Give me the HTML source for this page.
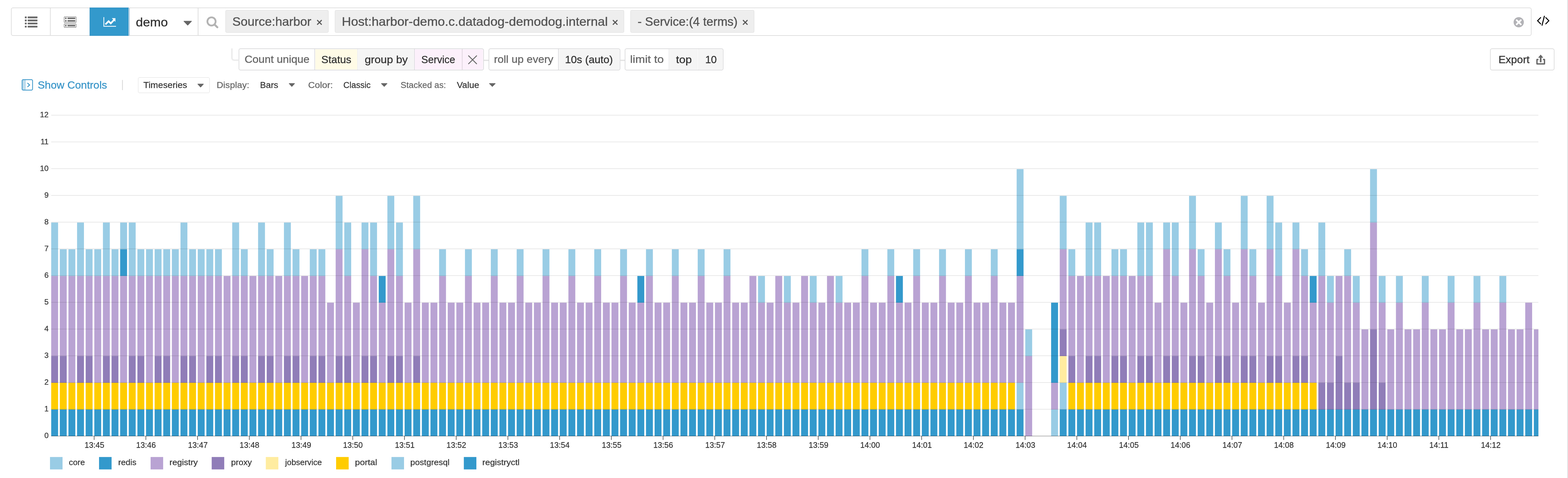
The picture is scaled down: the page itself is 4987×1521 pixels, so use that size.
<!DOCTYPE html>
<html lang="en"><head><meta charset="utf-8"><title>Log Analytics</title>
<style>
html,body{margin:0;padding:0;background:#fff;}
body{width:4987px;height:1521px;position:relative;overflow:hidden;font-family:"Liberation Sans",sans-serif;}
.t{position:absolute;white-space:pre;transform-origin:0 0;font-family:"Liberation Sans",sans-serif;}
.abs{position:absolute;box-sizing:border-box;}
svg{position:absolute;left:0;top:0;overflow:visible;}
</style></head>
<body>
<div class="abs" style="left:4985px;top:0;width:2px;height:1521px;background:#d9d9dd"></div>
<div class="abs" style="left:35.4px;top:24.3px;width:4835.8px;height:89.8px;border:2px solid #dbdbdb;border-radius:6px;background:#fff"></div>
<div class="abs" style="left:159.3px;top:25px;width:2px;height:88px;background:#d9d9d9"></div>
<div class="abs" style="left:285px;top:24.2px;width:124.2px;height:89.6px;background:#3399cc;border:1.2px solid #2b86b8"></div>
<div class="abs" style="left:410.6px;top:25.5px;width:1.7px;height:87.5px;background:#2a7ab0"></div>
<div class="abs" style="left:629.2px;top:25px;width:2px;height:88px;background:#d9d9d9"></div>
<div class="abs" style="left:717.0px;top:32.2px;width:327.8px;height:71.7px;border:1.9px solid #d9d9d9;border-radius:4.5px;background:#eeeeee"></div>
<div class="abs" style="left:1065.0px;top:32.2px;width:919.5px;height:71.7px;border:1.9px solid #d9d9d9;border-radius:4.5px;background:#eeeeee"></div>
<div class="abs" style="left:2005.1px;top:32.2px;width:393.5px;height:71.7px;border:1.9px solid #d9d9d9;border-radius:4.5px;background:#eeeeee"></div>
<div class="abs" style="left:759.4px;top:154.1px;width:779.3px;height:69.7px;border:2px solid #d8d8da;border-radius:6px;background:#fff;overflow:hidden">
<div class="abs" style="left:241.4px;top:1.2px;width:133.1px;height:63.3px;background:#fffbe6"></div>
<div class="abs" style="left:378.1px;top:1.2px;width:176.6px;height:63.3px;background:#f5f5f5"></div>
<div class="abs" style="left:558.1px;top:1.2px;width:150.6px;height:63.3px;background:#fcf0fb"></div>
<div class="abs" style="left:708.7px;top:1.2px;width:65.6px;height:63.3px;background:#fcf0fb"></div>
<div class="abs" style="left:238.8px;top:0;width:1.6px;height:66px;background:#d9d9dc"></div>
<div class="abs" style="left:375.5px;top:0;width:1.6px;height:66px;background:#d9d9dc"></div>
<div class="abs" style="left:555.7px;top:0;width:1.6px;height:66px;background:#d9d9dc"></div>
<div class="abs" style="left:707.9px;top:0;width:1.6px;height:66px;background:#ddd3dc"></div>
</div>
<div class="abs" style="left:1553.6px;top:154.1px;width:419.0px;height:69.7px;border:2px solid #d8d8da;border-radius:6px;background:#fff;overflow:hidden">
<div class="abs" style="left:222.2px;top:1.2px;width:191.8px;height:63.3px;background:#f5f5f5"></div>
<div class="abs" style="left:219.6px;top:0;width:1.6px;height:66px;background:#d9d9dc"></div>
</div>
<div class="abs" style="left:1987.0px;top:154.1px;width:314.2px;height:69.7px;border:2px solid #d8d8da;border-radius:6px;background:#fff;overflow:hidden">
<div class="abs" style="left:140.4px;top:1.2px;width:91.1px;height:63.3px;background:#f5f5f5"></div>
<div class="abs" style="left:235.1px;top:1.2px;width:74.1px;height:63.3px;background:#f5f5f5"></div>
<div class="abs" style="left:137.8px;top:0;width:1.6px;height:66px;background:#d9d9dc"></div>
<div class="abs" style="left:232.5px;top:0;width:1.6px;height:66px;background:#d9d9dc"></div>
</div>
<div class="abs" style="left:1538.5px;top:189.8px;width:15.3px;height:4px;background:#e3e3e3"></div>
<div class="abs" style="left:1972.4px;top:189.8px;width:14.8px;height:4px;background:#e3e3e3"></div>
<div class="abs" style="left:735.2px;top:154px;width:25px;height:39.6px;border-left:5.6px solid #ededed;border-bottom:5.4px solid #ededed;border-bottom-left-radius:10px"></div>
<div class="abs" style="left:4739.3px;top:154.1px;width:205px;height:69.7px;border:2.2px solid #dadada;border-radius:6.5px;background:#fff"></div>
<div class="abs" style="left:388px;top:253.8px;width:3px;height:33.5px;background:#dedede;border-radius:1.5px"></div>
<div class="abs" style="left:439.2px;top:246.0px;width:227.8px;height:49.9px;border:1.9px solid #d8d8d8;border-radius:5px;background:#fff"></div>
<svg class="chart" width="4987" height="1521" viewBox="0 0 4987 1521">
<rect x="162.85" y="1303.02" width="21.90" height="84.98" fill="#3399cc"/>
<rect x="162.85" y="1218.04" width="21.90" height="84.98" fill="#ffcc00"/>
<rect x="162.85" y="1133.06" width="21.90" height="84.98" fill="#907db8"/>
<rect x="162.85" y="878.12" width="21.90" height="254.94" fill="#b9a3d3"/>
<rect x="162.85" y="708.16" width="21.90" height="169.96" fill="#99cce5"/>
<rect x="190.27" y="1303.02" width="21.90" height="84.98" fill="#3399cc"/>
<rect x="190.27" y="1218.04" width="21.90" height="84.98" fill="#ffcc00"/>
<rect x="190.27" y="1133.06" width="21.90" height="84.98" fill="#907db8"/>
<rect x="190.27" y="878.12" width="21.90" height="254.94" fill="#b9a3d3"/>
<rect x="190.27" y="793.14" width="21.90" height="84.98" fill="#99cce5"/>
<rect x="217.68" y="1303.02" width="21.90" height="84.98" fill="#3399cc"/>
<rect x="217.68" y="1218.04" width="21.90" height="84.98" fill="#ffcc00"/>
<rect x="217.68" y="878.12" width="21.90" height="339.92" fill="#b9a3d3"/>
<rect x="217.68" y="793.14" width="21.90" height="84.98" fill="#99cce5"/>
<rect x="245.10" y="1303.02" width="21.90" height="84.98" fill="#3399cc"/>
<rect x="245.10" y="1218.04" width="21.90" height="84.98" fill="#ffcc00"/>
<rect x="245.10" y="1133.06" width="21.90" height="84.98" fill="#907db8"/>
<rect x="245.10" y="878.12" width="21.90" height="254.94" fill="#b9a3d3"/>
<rect x="245.10" y="708.16" width="21.90" height="169.96" fill="#99cce5"/>
<rect x="272.51" y="1303.02" width="21.90" height="84.98" fill="#3399cc"/>
<rect x="272.51" y="1218.04" width="21.90" height="84.98" fill="#ffcc00"/>
<rect x="272.51" y="1133.06" width="21.90" height="84.98" fill="#907db8"/>
<rect x="272.51" y="878.12" width="21.90" height="254.94" fill="#b9a3d3"/>
<rect x="272.51" y="793.14" width="21.90" height="84.98" fill="#99cce5"/>
<rect x="299.93" y="1303.02" width="21.90" height="84.98" fill="#3399cc"/>
<rect x="299.93" y="1218.04" width="21.90" height="84.98" fill="#ffcc00"/>
<rect x="299.93" y="878.12" width="21.90" height="339.92" fill="#b9a3d3"/>
<rect x="299.93" y="793.14" width="21.90" height="84.98" fill="#99cce5"/>
<rect x="327.35" y="1303.02" width="21.90" height="84.98" fill="#3399cc"/>
<rect x="327.35" y="1218.04" width="21.90" height="84.98" fill="#ffcc00"/>
<rect x="327.35" y="1133.06" width="21.90" height="84.98" fill="#907db8"/>
<rect x="327.35" y="878.12" width="21.90" height="254.94" fill="#b9a3d3"/>
<rect x="327.35" y="708.16" width="21.90" height="169.96" fill="#99cce5"/>
<rect x="354.76" y="1303.02" width="21.90" height="84.98" fill="#3399cc"/>
<rect x="354.76" y="1218.04" width="21.90" height="84.98" fill="#ffcc00"/>
<rect x="354.76" y="1133.06" width="21.90" height="84.98" fill="#907db8"/>
<rect x="354.76" y="878.12" width="21.90" height="254.94" fill="#b9a3d3"/>
<rect x="354.76" y="793.14" width="21.90" height="84.98" fill="#99cce5"/>
<rect x="382.18" y="1303.02" width="21.90" height="84.98" fill="#3399cc"/>
<rect x="382.18" y="1218.04" width="21.90" height="84.98" fill="#ffcc00"/>
<rect x="382.18" y="878.12" width="21.90" height="339.92" fill="#b9a3d3"/>
<rect x="382.18" y="793.14" width="21.90" height="84.98" fill="#3399cc"/>
<rect x="382.18" y="708.16" width="21.90" height="84.98" fill="#99cce5"/>
<rect x="409.59" y="1303.02" width="21.90" height="84.98" fill="#3399cc"/>
<rect x="409.59" y="1218.04" width="21.90" height="84.98" fill="#ffcc00"/>
<rect x="409.59" y="1133.06" width="21.90" height="84.98" fill="#907db8"/>
<rect x="409.59" y="878.12" width="21.90" height="254.94" fill="#b9a3d3"/>
<rect x="409.59" y="708.16" width="21.90" height="169.96" fill="#99cce5"/>
<rect x="437.01" y="1303.02" width="21.90" height="84.98" fill="#3399cc"/>
<rect x="437.01" y="1218.04" width="21.90" height="84.98" fill="#ffcc00"/>
<rect x="437.01" y="1133.06" width="21.90" height="84.98" fill="#907db8"/>
<rect x="437.01" y="878.12" width="21.90" height="254.94" fill="#b9a3d3"/>
<rect x="437.01" y="793.14" width="21.90" height="84.98" fill="#99cce5"/>
<rect x="464.43" y="1303.02" width="21.90" height="84.98" fill="#3399cc"/>
<rect x="464.43" y="1218.04" width="21.90" height="84.98" fill="#ffcc00"/>
<rect x="464.43" y="878.12" width="21.90" height="339.92" fill="#b9a3d3"/>
<rect x="464.43" y="793.14" width="21.90" height="84.98" fill="#99cce5"/>
<rect x="491.84" y="1303.02" width="21.90" height="84.98" fill="#3399cc"/>
<rect x="491.84" y="1218.04" width="21.90" height="84.98" fill="#ffcc00"/>
<rect x="491.84" y="1133.06" width="21.90" height="84.98" fill="#907db8"/>
<rect x="491.84" y="878.12" width="21.90" height="254.94" fill="#b9a3d3"/>
<rect x="491.84" y="793.14" width="21.90" height="84.98" fill="#99cce5"/>
<rect x="519.26" y="1303.02" width="21.90" height="84.98" fill="#3399cc"/>
<rect x="519.26" y="1218.04" width="21.90" height="84.98" fill="#ffcc00"/>
<rect x="519.26" y="1133.06" width="21.90" height="84.98" fill="#907db8"/>
<rect x="519.26" y="878.12" width="21.90" height="254.94" fill="#b9a3d3"/>
<rect x="519.26" y="793.14" width="21.90" height="84.98" fill="#99cce5"/>
<rect x="546.67" y="1303.02" width="21.90" height="84.98" fill="#3399cc"/>
<rect x="546.67" y="1218.04" width="21.90" height="84.98" fill="#ffcc00"/>
<rect x="546.67" y="878.12" width="21.90" height="339.92" fill="#b9a3d3"/>
<rect x="546.67" y="793.14" width="21.90" height="84.98" fill="#99cce5"/>
<rect x="574.09" y="1303.02" width="21.90" height="84.98" fill="#3399cc"/>
<rect x="574.09" y="1218.04" width="21.90" height="84.98" fill="#ffcc00"/>
<rect x="574.09" y="1133.06" width="21.90" height="84.98" fill="#907db8"/>
<rect x="574.09" y="878.12" width="21.90" height="254.94" fill="#b9a3d3"/>
<rect x="574.09" y="708.16" width="21.90" height="169.96" fill="#99cce5"/>
<rect x="601.51" y="1303.02" width="21.90" height="84.98" fill="#3399cc"/>
<rect x="601.51" y="1218.04" width="21.90" height="84.98" fill="#ffcc00"/>
<rect x="601.51" y="1133.06" width="21.90" height="84.98" fill="#907db8"/>
<rect x="601.51" y="878.12" width="21.90" height="254.94" fill="#b9a3d3"/>
<rect x="601.51" y="793.14" width="21.90" height="84.98" fill="#99cce5"/>
<rect x="628.92" y="1303.02" width="21.90" height="84.98" fill="#3399cc"/>
<rect x="628.92" y="1218.04" width="21.90" height="84.98" fill="#ffcc00"/>
<rect x="628.92" y="878.12" width="21.90" height="339.92" fill="#b9a3d3"/>
<rect x="628.92" y="793.14" width="21.90" height="84.98" fill="#99cce5"/>
<rect x="656.34" y="1303.02" width="21.90" height="84.98" fill="#3399cc"/>
<rect x="656.34" y="1218.04" width="21.90" height="84.98" fill="#ffcc00"/>
<rect x="656.34" y="1133.06" width="21.90" height="84.98" fill="#907db8"/>
<rect x="656.34" y="878.12" width="21.90" height="254.94" fill="#b9a3d3"/>
<rect x="656.34" y="793.14" width="21.90" height="84.98" fill="#99cce5"/>
<rect x="683.75" y="1303.02" width="21.90" height="84.98" fill="#3399cc"/>
<rect x="683.75" y="1218.04" width="21.90" height="84.98" fill="#ffcc00"/>
<rect x="683.75" y="1133.06" width="21.90" height="84.98" fill="#907db8"/>
<rect x="683.75" y="878.12" width="21.90" height="254.94" fill="#b9a3d3"/>
<rect x="683.75" y="793.14" width="21.90" height="84.98" fill="#99cce5"/>
<rect x="711.17" y="1303.02" width="21.90" height="84.98" fill="#3399cc"/>
<rect x="711.17" y="1218.04" width="21.90" height="84.98" fill="#ffcc00"/>
<rect x="711.17" y="878.12" width="21.90" height="339.92" fill="#b9a3d3"/>
<rect x="738.59" y="1303.02" width="21.90" height="84.98" fill="#3399cc"/>
<rect x="738.59" y="1218.04" width="21.90" height="84.98" fill="#ffcc00"/>
<rect x="738.59" y="1133.06" width="21.90" height="84.98" fill="#907db8"/>
<rect x="738.59" y="878.12" width="21.90" height="254.94" fill="#b9a3d3"/>
<rect x="738.59" y="708.16" width="21.90" height="169.96" fill="#99cce5"/>
<rect x="766.00" y="1303.02" width="21.90" height="84.98" fill="#3399cc"/>
<rect x="766.00" y="1218.04" width="21.90" height="84.98" fill="#ffcc00"/>
<rect x="766.00" y="1133.06" width="21.90" height="84.98" fill="#907db8"/>
<rect x="766.00" y="878.12" width="21.90" height="254.94" fill="#b9a3d3"/>
<rect x="766.00" y="793.14" width="21.90" height="84.98" fill="#99cce5"/>
<rect x="793.42" y="1303.02" width="21.90" height="84.98" fill="#3399cc"/>
<rect x="793.42" y="1218.04" width="21.90" height="84.98" fill="#ffcc00"/>
<rect x="793.42" y="878.12" width="21.90" height="339.92" fill="#b9a3d3"/>
<rect x="820.83" y="1303.02" width="21.90" height="84.98" fill="#3399cc"/>
<rect x="820.83" y="1218.04" width="21.90" height="84.98" fill="#ffcc00"/>
<rect x="820.83" y="1133.06" width="21.90" height="84.98" fill="#907db8"/>
<rect x="820.83" y="878.12" width="21.90" height="254.94" fill="#b9a3d3"/>
<rect x="820.83" y="708.16" width="21.90" height="169.96" fill="#99cce5"/>
<rect x="848.25" y="1303.02" width="21.90" height="84.98" fill="#3399cc"/>
<rect x="848.25" y="1218.04" width="21.90" height="84.98" fill="#ffcc00"/>
<rect x="848.25" y="1133.06" width="21.90" height="84.98" fill="#907db8"/>
<rect x="848.25" y="878.12" width="21.90" height="254.94" fill="#b9a3d3"/>
<rect x="848.25" y="793.14" width="21.90" height="84.98" fill="#99cce5"/>
<rect x="875.67" y="1303.02" width="21.90" height="84.98" fill="#3399cc"/>
<rect x="875.67" y="1218.04" width="21.90" height="84.98" fill="#ffcc00"/>
<rect x="875.67" y="878.12" width="21.90" height="339.92" fill="#b9a3d3"/>
<rect x="903.08" y="1303.02" width="21.90" height="84.98" fill="#3399cc"/>
<rect x="903.08" y="1218.04" width="21.90" height="84.98" fill="#ffcc00"/>
<rect x="903.08" y="1133.06" width="21.90" height="84.98" fill="#907db8"/>
<rect x="903.08" y="878.12" width="21.90" height="254.94" fill="#b9a3d3"/>
<rect x="903.08" y="708.16" width="21.90" height="169.96" fill="#99cce5"/>
<rect x="930.50" y="1303.02" width="21.90" height="84.98" fill="#3399cc"/>
<rect x="930.50" y="1218.04" width="21.90" height="84.98" fill="#ffcc00"/>
<rect x="930.50" y="1133.06" width="21.90" height="84.98" fill="#907db8"/>
<rect x="930.50" y="878.12" width="21.90" height="254.94" fill="#b9a3d3"/>
<rect x="930.50" y="793.14" width="21.90" height="84.98" fill="#99cce5"/>
<rect x="957.91" y="1303.02" width="21.90" height="84.98" fill="#3399cc"/>
<rect x="957.91" y="1218.04" width="21.90" height="84.98" fill="#ffcc00"/>
<rect x="957.91" y="878.12" width="21.90" height="339.92" fill="#b9a3d3"/>
<rect x="985.33" y="1303.02" width="21.90" height="84.98" fill="#3399cc"/>
<rect x="985.33" y="1218.04" width="21.90" height="84.98" fill="#ffcc00"/>
<rect x="985.33" y="1133.06" width="21.90" height="84.98" fill="#907db8"/>
<rect x="985.33" y="878.12" width="21.90" height="254.94" fill="#b9a3d3"/>
<rect x="985.33" y="793.14" width="21.90" height="84.98" fill="#99cce5"/>
<rect x="1012.75" y="1303.02" width="21.90" height="84.98" fill="#3399cc"/>
<rect x="1012.75" y="1218.04" width="21.90" height="84.98" fill="#ffcc00"/>
<rect x="1012.75" y="1133.06" width="21.90" height="84.98" fill="#907db8"/>
<rect x="1012.75" y="878.12" width="21.90" height="254.94" fill="#b9a3d3"/>
<rect x="1012.75" y="793.14" width="21.90" height="84.98" fill="#99cce5"/>
<rect x="1040.16" y="1303.02" width="21.90" height="84.98" fill="#3399cc"/>
<rect x="1040.16" y="1218.04" width="21.90" height="84.98" fill="#ffcc00"/>
<rect x="1040.16" y="963.10" width="21.90" height="254.94" fill="#b9a3d3"/>
<rect x="1067.58" y="1303.02" width="21.90" height="84.98" fill="#3399cc"/>
<rect x="1067.58" y="1218.04" width="21.90" height="84.98" fill="#ffcc00"/>
<rect x="1067.58" y="1133.06" width="21.90" height="84.98" fill="#907db8"/>
<rect x="1067.58" y="793.14" width="21.90" height="339.92" fill="#b9a3d3"/>
<rect x="1067.58" y="623.18" width="21.90" height="169.96" fill="#99cce5"/>
<rect x="1094.99" y="1303.02" width="21.90" height="84.98" fill="#3399cc"/>
<rect x="1094.99" y="1218.04" width="21.90" height="84.98" fill="#ffcc00"/>
<rect x="1094.99" y="1133.06" width="21.90" height="84.98" fill="#907db8"/>
<rect x="1094.99" y="878.12" width="21.90" height="254.94" fill="#b9a3d3"/>
<rect x="1094.99" y="708.16" width="21.90" height="169.96" fill="#99cce5"/>
<rect x="1122.41" y="1303.02" width="21.90" height="84.98" fill="#3399cc"/>
<rect x="1122.41" y="1218.04" width="21.90" height="84.98" fill="#ffcc00"/>
<rect x="1122.41" y="963.10" width="21.90" height="254.94" fill="#b9a3d3"/>
<rect x="1149.83" y="1303.02" width="21.90" height="84.98" fill="#3399cc"/>
<rect x="1149.83" y="1218.04" width="21.90" height="84.98" fill="#ffcc00"/>
<rect x="1149.83" y="1133.06" width="21.90" height="84.98" fill="#907db8"/>
<rect x="1149.83" y="793.14" width="21.90" height="339.92" fill="#b9a3d3"/>
<rect x="1149.83" y="708.16" width="21.90" height="84.98" fill="#99cce5"/>
<rect x="1177.24" y="1303.02" width="21.90" height="84.98" fill="#3399cc"/>
<rect x="1177.24" y="1218.04" width="21.90" height="84.98" fill="#ffcc00"/>
<rect x="1177.24" y="1133.06" width="21.90" height="84.98" fill="#907db8"/>
<rect x="1177.24" y="878.12" width="21.90" height="254.94" fill="#b9a3d3"/>
<rect x="1177.24" y="708.16" width="21.90" height="169.96" fill="#99cce5"/>
<rect x="1204.66" y="1303.02" width="21.90" height="84.98" fill="#3399cc"/>
<rect x="1204.66" y="1218.04" width="21.90" height="84.98" fill="#ffcc00"/>
<rect x="1204.66" y="963.10" width="21.90" height="254.94" fill="#b9a3d3"/>
<rect x="1204.66" y="878.12" width="21.90" height="84.98" fill="#3399cc"/>
<rect x="1232.07" y="1303.02" width="21.90" height="84.98" fill="#3399cc"/>
<rect x="1232.07" y="1218.04" width="21.90" height="84.98" fill="#ffcc00"/>
<rect x="1232.07" y="1133.06" width="21.90" height="84.98" fill="#907db8"/>
<rect x="1232.07" y="793.14" width="21.90" height="339.92" fill="#b9a3d3"/>
<rect x="1232.07" y="623.18" width="21.90" height="169.96" fill="#99cce5"/>
<rect x="1259.49" y="1303.02" width="21.90" height="84.98" fill="#3399cc"/>
<rect x="1259.49" y="1218.04" width="21.90" height="84.98" fill="#ffcc00"/>
<rect x="1259.49" y="1133.06" width="21.90" height="84.98" fill="#907db8"/>
<rect x="1259.49" y="878.12" width="21.90" height="254.94" fill="#b9a3d3"/>
<rect x="1259.49" y="708.16" width="21.90" height="169.96" fill="#99cce5"/>
<rect x="1286.91" y="1303.02" width="21.90" height="84.98" fill="#3399cc"/>
<rect x="1286.91" y="1218.04" width="21.90" height="84.98" fill="#ffcc00"/>
<rect x="1286.91" y="963.10" width="21.90" height="254.94" fill="#b9a3d3"/>
<rect x="1314.32" y="1303.02" width="21.90" height="84.98" fill="#3399cc"/>
<rect x="1314.32" y="1218.04" width="21.90" height="84.98" fill="#ffcc00"/>
<rect x="1314.32" y="1133.06" width="21.90" height="84.98" fill="#907db8"/>
<rect x="1314.32" y="793.14" width="21.90" height="339.92" fill="#b9a3d3"/>
<rect x="1314.32" y="623.18" width="21.90" height="169.96" fill="#99cce5"/>
<rect x="1341.74" y="1303.02" width="21.90" height="84.98" fill="#3399cc"/>
<rect x="1341.74" y="1218.04" width="21.90" height="84.98" fill="#ffcc00"/>
<rect x="1341.74" y="963.10" width="21.90" height="254.94" fill="#b9a3d3"/>
<rect x="1369.15" y="1303.02" width="21.90" height="84.98" fill="#3399cc"/>
<rect x="1369.15" y="1218.04" width="21.90" height="84.98" fill="#ffcc00"/>
<rect x="1369.15" y="963.10" width="21.90" height="254.94" fill="#b9a3d3"/>
<rect x="1396.57" y="1303.02" width="21.90" height="84.98" fill="#3399cc"/>
<rect x="1396.57" y="1218.04" width="21.90" height="84.98" fill="#ffcc00"/>
<rect x="1396.57" y="878.12" width="21.90" height="339.92" fill="#b9a3d3"/>
<rect x="1396.57" y="793.14" width="21.90" height="84.98" fill="#99cce5"/>
<rect x="1423.99" y="1303.02" width="21.90" height="84.98" fill="#3399cc"/>
<rect x="1423.99" y="1218.04" width="21.90" height="84.98" fill="#ffcc00"/>
<rect x="1423.99" y="963.10" width="21.90" height="254.94" fill="#b9a3d3"/>
<rect x="1451.40" y="1303.02" width="21.90" height="84.98" fill="#3399cc"/>
<rect x="1451.40" y="1218.04" width="21.90" height="84.98" fill="#ffcc00"/>
<rect x="1451.40" y="963.10" width="21.90" height="254.94" fill="#b9a3d3"/>
<rect x="1478.82" y="1303.02" width="21.90" height="84.98" fill="#3399cc"/>
<rect x="1478.82" y="1218.04" width="21.90" height="84.98" fill="#ffcc00"/>
<rect x="1478.82" y="878.12" width="21.90" height="339.92" fill="#b9a3d3"/>
<rect x="1478.82" y="793.14" width="21.90" height="84.98" fill="#99cce5"/>
<rect x="1506.23" y="1303.02" width="21.90" height="84.98" fill="#3399cc"/>
<rect x="1506.23" y="1218.04" width="21.90" height="84.98" fill="#ffcc00"/>
<rect x="1506.23" y="963.10" width="21.90" height="254.94" fill="#b9a3d3"/>
<rect x="1533.65" y="1303.02" width="21.90" height="84.98" fill="#3399cc"/>
<rect x="1533.65" y="1218.04" width="21.90" height="84.98" fill="#ffcc00"/>
<rect x="1533.65" y="963.10" width="21.90" height="254.94" fill="#b9a3d3"/>
<rect x="1561.07" y="1303.02" width="21.90" height="84.98" fill="#3399cc"/>
<rect x="1561.07" y="1218.04" width="21.90" height="84.98" fill="#ffcc00"/>
<rect x="1561.07" y="878.12" width="21.90" height="339.92" fill="#b9a3d3"/>
<rect x="1561.07" y="793.14" width="21.90" height="84.98" fill="#99cce5"/>
<rect x="1588.48" y="1303.02" width="21.90" height="84.98" fill="#3399cc"/>
<rect x="1588.48" y="1218.04" width="21.90" height="84.98" fill="#ffcc00"/>
<rect x="1588.48" y="963.10" width="21.90" height="254.94" fill="#b9a3d3"/>
<rect x="1615.90" y="1303.02" width="21.90" height="84.98" fill="#3399cc"/>
<rect x="1615.90" y="1218.04" width="21.90" height="84.98" fill="#ffcc00"/>
<rect x="1615.90" y="963.10" width="21.90" height="254.94" fill="#b9a3d3"/>
<rect x="1643.31" y="1303.02" width="21.90" height="84.98" fill="#3399cc"/>
<rect x="1643.31" y="1218.04" width="21.90" height="84.98" fill="#ffcc00"/>
<rect x="1643.31" y="878.12" width="21.90" height="339.92" fill="#b9a3d3"/>
<rect x="1643.31" y="793.14" width="21.90" height="84.98" fill="#99cce5"/>
<rect x="1670.73" y="1303.02" width="21.90" height="84.98" fill="#3399cc"/>
<rect x="1670.73" y="1218.04" width="21.90" height="84.98" fill="#ffcc00"/>
<rect x="1670.73" y="963.10" width="21.90" height="254.94" fill="#b9a3d3"/>
<rect x="1698.15" y="1303.02" width="21.90" height="84.98" fill="#3399cc"/>
<rect x="1698.15" y="1218.04" width="21.90" height="84.98" fill="#ffcc00"/>
<rect x="1698.15" y="963.10" width="21.90" height="254.94" fill="#b9a3d3"/>
<rect x="1725.56" y="1303.02" width="21.90" height="84.98" fill="#3399cc"/>
<rect x="1725.56" y="1218.04" width="21.90" height="84.98" fill="#ffcc00"/>
<rect x="1725.56" y="878.12" width="21.90" height="339.92" fill="#b9a3d3"/>
<rect x="1725.56" y="793.14" width="21.90" height="84.98" fill="#99cce5"/>
<rect x="1752.98" y="1303.02" width="21.90" height="84.98" fill="#3399cc"/>
<rect x="1752.98" y="1218.04" width="21.90" height="84.98" fill="#ffcc00"/>
<rect x="1752.98" y="963.10" width="21.90" height="254.94" fill="#b9a3d3"/>
<rect x="1780.39" y="1303.02" width="21.90" height="84.98" fill="#3399cc"/>
<rect x="1780.39" y="1218.04" width="21.90" height="84.98" fill="#ffcc00"/>
<rect x="1780.39" y="963.10" width="21.90" height="254.94" fill="#b9a3d3"/>
<rect x="1807.81" y="1303.02" width="21.90" height="84.98" fill="#3399cc"/>
<rect x="1807.81" y="1218.04" width="21.90" height="84.98" fill="#ffcc00"/>
<rect x="1807.81" y="878.12" width="21.90" height="339.92" fill="#b9a3d3"/>
<rect x="1807.81" y="793.14" width="21.90" height="84.98" fill="#99cce5"/>
<rect x="1835.23" y="1303.02" width="21.90" height="84.98" fill="#3399cc"/>
<rect x="1835.23" y="1218.04" width="21.90" height="84.98" fill="#ffcc00"/>
<rect x="1835.23" y="963.10" width="21.90" height="254.94" fill="#b9a3d3"/>
<rect x="1862.64" y="1303.02" width="21.90" height="84.98" fill="#3399cc"/>
<rect x="1862.64" y="1218.04" width="21.90" height="84.98" fill="#ffcc00"/>
<rect x="1862.64" y="963.10" width="21.90" height="254.94" fill="#b9a3d3"/>
<rect x="1890.06" y="1303.02" width="21.90" height="84.98" fill="#3399cc"/>
<rect x="1890.06" y="1218.04" width="21.90" height="84.98" fill="#ffcc00"/>
<rect x="1890.06" y="878.12" width="21.90" height="339.92" fill="#b9a3d3"/>
<rect x="1890.06" y="793.14" width="21.90" height="84.98" fill="#99cce5"/>
<rect x="1917.47" y="1303.02" width="21.90" height="84.98" fill="#3399cc"/>
<rect x="1917.47" y="1218.04" width="21.90" height="84.98" fill="#ffcc00"/>
<rect x="1917.47" y="963.10" width="21.90" height="254.94" fill="#b9a3d3"/>
<rect x="1944.89" y="1303.02" width="21.90" height="84.98" fill="#3399cc"/>
<rect x="1944.89" y="1218.04" width="21.90" height="84.98" fill="#ffcc00"/>
<rect x="1944.89" y="963.10" width="21.90" height="254.94" fill="#b9a3d3"/>
<rect x="1972.31" y="1303.02" width="21.90" height="84.98" fill="#3399cc"/>
<rect x="1972.31" y="1218.04" width="21.90" height="84.98" fill="#ffcc00"/>
<rect x="1972.31" y="878.12" width="21.90" height="339.92" fill="#b9a3d3"/>
<rect x="1972.31" y="793.14" width="21.90" height="84.98" fill="#99cce5"/>
<rect x="1999.72" y="1303.02" width="21.90" height="84.98" fill="#3399cc"/>
<rect x="1999.72" y="1218.04" width="21.90" height="84.98" fill="#ffcc00"/>
<rect x="1999.72" y="963.10" width="21.90" height="254.94" fill="#b9a3d3"/>
<rect x="2027.14" y="1303.02" width="21.90" height="84.98" fill="#3399cc"/>
<rect x="2027.14" y="1218.04" width="21.90" height="84.98" fill="#ffcc00"/>
<rect x="2027.14" y="963.10" width="21.90" height="254.94" fill="#b9a3d3"/>
<rect x="2027.14" y="878.12" width="21.90" height="84.98" fill="#3399cc"/>
<rect x="2054.55" y="1303.02" width="21.90" height="84.98" fill="#3399cc"/>
<rect x="2054.55" y="1218.04" width="21.90" height="84.98" fill="#ffcc00"/>
<rect x="2054.55" y="878.12" width="21.90" height="339.92" fill="#b9a3d3"/>
<rect x="2054.55" y="793.14" width="21.90" height="84.98" fill="#99cce5"/>
<rect x="2081.97" y="1303.02" width="21.90" height="84.98" fill="#3399cc"/>
<rect x="2081.97" y="1218.04" width="21.90" height="84.98" fill="#ffcc00"/>
<rect x="2081.97" y="963.10" width="21.90" height="254.94" fill="#b9a3d3"/>
<rect x="2109.39" y="1303.02" width="21.90" height="84.98" fill="#3399cc"/>
<rect x="2109.39" y="1218.04" width="21.90" height="84.98" fill="#ffcc00"/>
<rect x="2109.39" y="963.10" width="21.90" height="254.94" fill="#b9a3d3"/>
<rect x="2136.80" y="1303.02" width="21.90" height="84.98" fill="#3399cc"/>
<rect x="2136.80" y="1218.04" width="21.90" height="84.98" fill="#ffcc00"/>
<rect x="2136.80" y="878.12" width="21.90" height="339.92" fill="#b9a3d3"/>
<rect x="2136.80" y="793.14" width="21.90" height="84.98" fill="#99cce5"/>
<rect x="2164.22" y="1303.02" width="21.90" height="84.98" fill="#3399cc"/>
<rect x="2164.22" y="1218.04" width="21.90" height="84.98" fill="#ffcc00"/>
<rect x="2164.22" y="963.10" width="21.90" height="254.94" fill="#b9a3d3"/>
<rect x="2191.63" y="1303.02" width="21.90" height="84.98" fill="#3399cc"/>
<rect x="2191.63" y="1218.04" width="21.90" height="84.98" fill="#ffcc00"/>
<rect x="2191.63" y="963.10" width="21.90" height="254.94" fill="#b9a3d3"/>
<rect x="2219.05" y="1303.02" width="21.90" height="84.98" fill="#3399cc"/>
<rect x="2219.05" y="1218.04" width="21.90" height="84.98" fill="#ffcc00"/>
<rect x="2219.05" y="878.12" width="21.90" height="339.92" fill="#b9a3d3"/>
<rect x="2219.05" y="793.14" width="21.90" height="84.98" fill="#99cce5"/>
<rect x="2246.47" y="1303.02" width="21.90" height="84.98" fill="#3399cc"/>
<rect x="2246.47" y="1218.04" width="21.90" height="84.98" fill="#ffcc00"/>
<rect x="2246.47" y="963.10" width="21.90" height="254.94" fill="#b9a3d3"/>
<rect x="2273.88" y="1303.02" width="21.90" height="84.98" fill="#3399cc"/>
<rect x="2273.88" y="1218.04" width="21.90" height="84.98" fill="#ffcc00"/>
<rect x="2273.88" y="963.10" width="21.90" height="254.94" fill="#b9a3d3"/>
<rect x="2301.30" y="1303.02" width="21.90" height="84.98" fill="#3399cc"/>
<rect x="2301.30" y="1218.04" width="21.90" height="84.98" fill="#ffcc00"/>
<rect x="2301.30" y="878.12" width="21.90" height="339.92" fill="#b9a3d3"/>
<rect x="2301.30" y="793.14" width="21.90" height="84.98" fill="#99cce5"/>
<rect x="2328.71" y="1303.02" width="21.90" height="84.98" fill="#3399cc"/>
<rect x="2328.71" y="1218.04" width="21.90" height="84.98" fill="#ffcc00"/>
<rect x="2328.71" y="963.10" width="21.90" height="254.94" fill="#b9a3d3"/>
<rect x="2356.13" y="1303.02" width="21.90" height="84.98" fill="#3399cc"/>
<rect x="2356.13" y="1218.04" width="21.90" height="84.98" fill="#ffcc00"/>
<rect x="2356.13" y="963.10" width="21.90" height="254.94" fill="#b9a3d3"/>
<rect x="2383.55" y="1303.02" width="21.90" height="84.98" fill="#3399cc"/>
<rect x="2383.55" y="1218.04" width="21.90" height="84.98" fill="#ffcc00"/>
<rect x="2383.55" y="878.12" width="21.90" height="339.92" fill="#b9a3d3"/>
<rect x="2410.96" y="1303.02" width="21.90" height="84.98" fill="#3399cc"/>
<rect x="2410.96" y="1218.04" width="21.90" height="84.98" fill="#ffcc00"/>
<rect x="2410.96" y="963.10" width="21.90" height="254.94" fill="#b9a3d3"/>
<rect x="2410.96" y="878.12" width="21.90" height="84.98" fill="#99cce5"/>
<rect x="2438.38" y="1303.02" width="21.90" height="84.98" fill="#3399cc"/>
<rect x="2438.38" y="1218.04" width="21.90" height="84.98" fill="#ffcc00"/>
<rect x="2438.38" y="963.10" width="21.90" height="254.94" fill="#b9a3d3"/>
<rect x="2465.79" y="1303.02" width="21.90" height="84.98" fill="#3399cc"/>
<rect x="2465.79" y="1218.04" width="21.90" height="84.98" fill="#ffcc00"/>
<rect x="2465.79" y="878.12" width="21.90" height="339.92" fill="#b9a3d3"/>
<rect x="2493.21" y="1303.02" width="21.90" height="84.98" fill="#3399cc"/>
<rect x="2493.21" y="1218.04" width="21.90" height="84.98" fill="#ffcc00"/>
<rect x="2493.21" y="963.10" width="21.90" height="254.94" fill="#b9a3d3"/>
<rect x="2493.21" y="878.12" width="21.90" height="84.98" fill="#99cce5"/>
<rect x="2520.63" y="1303.02" width="21.90" height="84.98" fill="#3399cc"/>
<rect x="2520.63" y="1218.04" width="21.90" height="84.98" fill="#ffcc00"/>
<rect x="2520.63" y="963.10" width="21.90" height="254.94" fill="#b9a3d3"/>
<rect x="2548.04" y="1303.02" width="21.90" height="84.98" fill="#3399cc"/>
<rect x="2548.04" y="1218.04" width="21.90" height="84.98" fill="#ffcc00"/>
<rect x="2548.04" y="878.12" width="21.90" height="339.92" fill="#b9a3d3"/>
<rect x="2575.46" y="1303.02" width="21.90" height="84.98" fill="#3399cc"/>
<rect x="2575.46" y="1218.04" width="21.90" height="84.98" fill="#ffcc00"/>
<rect x="2575.46" y="963.10" width="21.90" height="254.94" fill="#b9a3d3"/>
<rect x="2575.46" y="878.12" width="21.90" height="84.98" fill="#99cce5"/>
<rect x="2602.87" y="1303.02" width="21.90" height="84.98" fill="#3399cc"/>
<rect x="2602.87" y="1218.04" width="21.90" height="84.98" fill="#ffcc00"/>
<rect x="2602.87" y="963.10" width="21.90" height="254.94" fill="#b9a3d3"/>
<rect x="2630.29" y="1303.02" width="21.90" height="84.98" fill="#3399cc"/>
<rect x="2630.29" y="1218.04" width="21.90" height="84.98" fill="#ffcc00"/>
<rect x="2630.29" y="878.12" width="21.90" height="339.92" fill="#b9a3d3"/>
<rect x="2657.71" y="1303.02" width="21.90" height="84.98" fill="#3399cc"/>
<rect x="2657.71" y="1218.04" width="21.90" height="84.98" fill="#ffcc00"/>
<rect x="2657.71" y="963.10" width="21.90" height="254.94" fill="#b9a3d3"/>
<rect x="2657.71" y="878.12" width="21.90" height="84.98" fill="#99cce5"/>
<rect x="2685.12" y="1303.02" width="21.90" height="84.98" fill="#3399cc"/>
<rect x="2685.12" y="1218.04" width="21.90" height="84.98" fill="#ffcc00"/>
<rect x="2685.12" y="963.10" width="21.90" height="254.94" fill="#b9a3d3"/>
<rect x="2712.54" y="1303.02" width="21.90" height="84.98" fill="#3399cc"/>
<rect x="2712.54" y="1218.04" width="21.90" height="84.98" fill="#ffcc00"/>
<rect x="2712.54" y="963.10" width="21.90" height="254.94" fill="#b9a3d3"/>
<rect x="2739.95" y="1303.02" width="21.90" height="84.98" fill="#3399cc"/>
<rect x="2739.95" y="1218.04" width="21.90" height="84.98" fill="#ffcc00"/>
<rect x="2739.95" y="878.12" width="21.90" height="339.92" fill="#b9a3d3"/>
<rect x="2739.95" y="793.14" width="21.90" height="84.98" fill="#99cce5"/>
<rect x="2767.37" y="1303.02" width="21.90" height="84.98" fill="#3399cc"/>
<rect x="2767.37" y="1218.04" width="21.90" height="84.98" fill="#ffcc00"/>
<rect x="2767.37" y="963.10" width="21.90" height="254.94" fill="#b9a3d3"/>
<rect x="2794.79" y="1303.02" width="21.90" height="84.98" fill="#3399cc"/>
<rect x="2794.79" y="1218.04" width="21.90" height="84.98" fill="#ffcc00"/>
<rect x="2794.79" y="963.10" width="21.90" height="254.94" fill="#b9a3d3"/>
<rect x="2822.20" y="1303.02" width="21.90" height="84.98" fill="#3399cc"/>
<rect x="2822.20" y="1218.04" width="21.90" height="84.98" fill="#ffcc00"/>
<rect x="2822.20" y="878.12" width="21.90" height="339.92" fill="#b9a3d3"/>
<rect x="2822.20" y="793.14" width="21.90" height="84.98" fill="#99cce5"/>
<rect x="2849.62" y="1303.02" width="21.90" height="84.98" fill="#3399cc"/>
<rect x="2849.62" y="1218.04" width="21.90" height="84.98" fill="#ffcc00"/>
<rect x="2849.62" y="963.10" width="21.90" height="254.94" fill="#b9a3d3"/>
<rect x="2849.62" y="878.12" width="21.90" height="84.98" fill="#3399cc"/>
<rect x="2877.03" y="1303.02" width="21.90" height="84.98" fill="#3399cc"/>
<rect x="2877.03" y="1218.04" width="21.90" height="84.98" fill="#ffcc00"/>
<rect x="2877.03" y="963.10" width="21.90" height="254.94" fill="#b9a3d3"/>
<rect x="2904.45" y="1303.02" width="21.90" height="84.98" fill="#3399cc"/>
<rect x="2904.45" y="1218.04" width="21.90" height="84.98" fill="#ffcc00"/>
<rect x="2904.45" y="878.12" width="21.90" height="339.92" fill="#b9a3d3"/>
<rect x="2904.45" y="793.14" width="21.90" height="84.98" fill="#99cce5"/>
<rect x="2931.87" y="1303.02" width="21.90" height="84.98" fill="#3399cc"/>
<rect x="2931.87" y="1218.04" width="21.90" height="84.98" fill="#ffcc00"/>
<rect x="2931.87" y="963.10" width="21.90" height="254.94" fill="#b9a3d3"/>
<rect x="2959.28" y="1303.02" width="21.90" height="84.98" fill="#3399cc"/>
<rect x="2959.28" y="1218.04" width="21.90" height="84.98" fill="#ffcc00"/>
<rect x="2959.28" y="963.10" width="21.90" height="254.94" fill="#b9a3d3"/>
<rect x="2986.70" y="1303.02" width="21.90" height="84.98" fill="#3399cc"/>
<rect x="2986.70" y="1218.04" width="21.90" height="84.98" fill="#ffcc00"/>
<rect x="2986.70" y="878.12" width="21.90" height="339.92" fill="#b9a3d3"/>
<rect x="2986.70" y="793.14" width="21.90" height="84.98" fill="#99cce5"/>
<rect x="3014.11" y="1303.02" width="21.90" height="84.98" fill="#3399cc"/>
<rect x="3014.11" y="1218.04" width="21.90" height="84.98" fill="#ffcc00"/>
<rect x="3014.11" y="963.10" width="21.90" height="254.94" fill="#b9a3d3"/>
<rect x="3041.53" y="1303.02" width="21.90" height="84.98" fill="#3399cc"/>
<rect x="3041.53" y="1218.04" width="21.90" height="84.98" fill="#ffcc00"/>
<rect x="3041.53" y="963.10" width="21.90" height="254.94" fill="#b9a3d3"/>
<rect x="3068.95" y="1303.02" width="21.90" height="84.98" fill="#3399cc"/>
<rect x="3068.95" y="1218.04" width="21.90" height="84.98" fill="#ffcc00"/>
<rect x="3068.95" y="878.12" width="21.90" height="339.92" fill="#b9a3d3"/>
<rect x="3068.95" y="793.14" width="21.90" height="84.98" fill="#99cce5"/>
<rect x="3096.36" y="1303.02" width="21.90" height="84.98" fill="#3399cc"/>
<rect x="3096.36" y="1218.04" width="21.90" height="84.98" fill="#ffcc00"/>
<rect x="3096.36" y="963.10" width="21.90" height="254.94" fill="#b9a3d3"/>
<rect x="3123.78" y="1303.02" width="21.90" height="84.98" fill="#3399cc"/>
<rect x="3123.78" y="1218.04" width="21.90" height="84.98" fill="#ffcc00"/>
<rect x="3123.78" y="963.10" width="21.90" height="254.94" fill="#b9a3d3"/>
<rect x="3151.19" y="1303.02" width="21.90" height="84.98" fill="#3399cc"/>
<rect x="3151.19" y="1218.04" width="21.90" height="84.98" fill="#ffcc00"/>
<rect x="3151.19" y="878.12" width="21.90" height="339.92" fill="#b9a3d3"/>
<rect x="3151.19" y="793.14" width="21.90" height="84.98" fill="#99cce5"/>
<rect x="3178.61" y="1303.02" width="21.90" height="84.98" fill="#3399cc"/>
<rect x="3178.61" y="1218.04" width="21.90" height="84.98" fill="#ffcc00"/>
<rect x="3178.61" y="963.10" width="21.90" height="254.94" fill="#b9a3d3"/>
<rect x="3206.03" y="1303.02" width="21.90" height="84.98" fill="#3399cc"/>
<rect x="3206.03" y="1218.04" width="21.90" height="84.98" fill="#ffcc00"/>
<rect x="3206.03" y="963.10" width="21.90" height="254.94" fill="#b9a3d3"/>
<rect x="3233.44" y="1303.02" width="21.90" height="84.98" fill="#3399cc"/>
<rect x="3233.44" y="1218.04" width="21.90" height="84.98" fill="#99cce5"/>
<rect x="3233.44" y="878.12" width="21.90" height="339.92" fill="#b9a3d3"/>
<rect x="3233.44" y="793.14" width="21.90" height="84.98" fill="#3399cc"/>
<rect x="3233.44" y="538.20" width="21.90" height="254.94" fill="#99cce5"/>
<rect x="3260.86" y="1133.06" width="21.90" height="254.94" fill="#b9a3d3"/>
<rect x="3260.86" y="1048.08" width="21.90" height="84.98" fill="#99cce5"/>
<rect x="3343.11" y="1303.02" width="21.90" height="84.98" fill="#99cce5"/>
<rect x="3343.11" y="1218.04" width="21.90" height="84.98" fill="#b9a3d3"/>
<rect x="3343.11" y="963.10" width="21.90" height="254.94" fill="#3399cc"/>
<rect x="3370.52" y="1303.02" width="21.90" height="84.98" fill="#3399cc"/>
<rect x="3370.52" y="1218.04" width="21.90" height="84.98" fill="#99cce5"/>
<rect x="3370.52" y="1133.06" width="21.90" height="84.98" fill="#ffeca0"/>
<rect x="3370.52" y="1048.08" width="21.90" height="84.98" fill="#907db8"/>
<rect x="3370.52" y="793.14" width="21.90" height="254.94" fill="#b9a3d3"/>
<rect x="3370.52" y="623.18" width="21.90" height="169.96" fill="#99cce5"/>
<rect x="3397.94" y="1303.02" width="21.90" height="84.98" fill="#3399cc"/>
<rect x="3397.94" y="1218.04" width="21.90" height="84.98" fill="#ffcc00"/>
<rect x="3397.94" y="1133.06" width="21.90" height="84.98" fill="#907db8"/>
<rect x="3397.94" y="878.12" width="21.90" height="254.94" fill="#b9a3d3"/>
<rect x="3397.94" y="793.14" width="21.90" height="84.98" fill="#99cce5"/>
<rect x="3425.35" y="1303.02" width="21.90" height="84.98" fill="#3399cc"/>
<rect x="3425.35" y="1218.04" width="21.90" height="84.98" fill="#ffcc00"/>
<rect x="3425.35" y="878.12" width="21.90" height="339.92" fill="#b9a3d3"/>
<rect x="3452.77" y="1303.02" width="21.90" height="84.98" fill="#3399cc"/>
<rect x="3452.77" y="1218.04" width="21.90" height="84.98" fill="#ffcc00"/>
<rect x="3452.77" y="1133.06" width="21.90" height="84.98" fill="#907db8"/>
<rect x="3452.77" y="878.12" width="21.90" height="254.94" fill="#b9a3d3"/>
<rect x="3452.77" y="708.16" width="21.90" height="169.96" fill="#99cce5"/>
<rect x="3480.19" y="1303.02" width="21.90" height="84.98" fill="#3399cc"/>
<rect x="3480.19" y="1218.04" width="21.90" height="84.98" fill="#ffcc00"/>
<rect x="3480.19" y="1133.06" width="21.90" height="84.98" fill="#907db8"/>
<rect x="3480.19" y="878.12" width="21.90" height="254.94" fill="#b9a3d3"/>
<rect x="3480.19" y="708.16" width="21.90" height="169.96" fill="#99cce5"/>
<rect x="3507.60" y="1303.02" width="21.90" height="84.98" fill="#3399cc"/>
<rect x="3507.60" y="1218.04" width="21.90" height="84.98" fill="#ffcc00"/>
<rect x="3507.60" y="878.12" width="21.90" height="339.92" fill="#b9a3d3"/>
<rect x="3535.02" y="1303.02" width="21.90" height="84.98" fill="#3399cc"/>
<rect x="3535.02" y="1218.04" width="21.90" height="84.98" fill="#ffcc00"/>
<rect x="3535.02" y="1133.06" width="21.90" height="84.98" fill="#907db8"/>
<rect x="3535.02" y="878.12" width="21.90" height="254.94" fill="#b9a3d3"/>
<rect x="3535.02" y="793.14" width="21.90" height="84.98" fill="#99cce5"/>
<rect x="3562.43" y="1303.02" width="21.90" height="84.98" fill="#3399cc"/>
<rect x="3562.43" y="1218.04" width="21.90" height="84.98" fill="#ffcc00"/>
<rect x="3562.43" y="1133.06" width="21.90" height="84.98" fill="#907db8"/>
<rect x="3562.43" y="878.12" width="21.90" height="254.94" fill="#b9a3d3"/>
<rect x="3562.43" y="793.14" width="21.90" height="84.98" fill="#99cce5"/>
<rect x="3589.85" y="1303.02" width="21.90" height="84.98" fill="#3399cc"/>
<rect x="3589.85" y="1218.04" width="21.90" height="84.98" fill="#ffcc00"/>
<rect x="3589.85" y="878.12" width="21.90" height="339.92" fill="#b9a3d3"/>
<rect x="3617.27" y="1303.02" width="21.90" height="84.98" fill="#3399cc"/>
<rect x="3617.27" y="1218.04" width="21.90" height="84.98" fill="#ffcc00"/>
<rect x="3617.27" y="1133.06" width="21.90" height="84.98" fill="#907db8"/>
<rect x="3617.27" y="878.12" width="21.90" height="254.94" fill="#b9a3d3"/>
<rect x="3617.27" y="708.16" width="21.90" height="169.96" fill="#99cce5"/>
<rect x="3644.68" y="1303.02" width="21.90" height="84.98" fill="#3399cc"/>
<rect x="3644.68" y="1218.04" width="21.90" height="84.98" fill="#ffcc00"/>
<rect x="3644.68" y="1133.06" width="21.90" height="84.98" fill="#907db8"/>
<rect x="3644.68" y="878.12" width="21.90" height="254.94" fill="#b9a3d3"/>
<rect x="3644.68" y="708.16" width="21.90" height="169.96" fill="#99cce5"/>
<rect x="3672.10" y="1303.02" width="21.90" height="84.98" fill="#3399cc"/>
<rect x="3672.10" y="1218.04" width="21.90" height="84.98" fill="#ffcc00"/>
<rect x="3672.10" y="963.10" width="21.90" height="254.94" fill="#b9a3d3"/>
<rect x="3699.51" y="1303.02" width="21.90" height="84.98" fill="#3399cc"/>
<rect x="3699.51" y="1218.04" width="21.90" height="84.98" fill="#ffcc00"/>
<rect x="3699.51" y="1133.06" width="21.90" height="84.98" fill="#907db8"/>
<rect x="3699.51" y="793.14" width="21.90" height="339.92" fill="#b9a3d3"/>
<rect x="3699.51" y="708.16" width="21.90" height="84.98" fill="#99cce5"/>
<rect x="3726.93" y="1303.02" width="21.90" height="84.98" fill="#3399cc"/>
<rect x="3726.93" y="1218.04" width="21.90" height="84.98" fill="#ffcc00"/>
<rect x="3726.93" y="1133.06" width="21.90" height="84.98" fill="#907db8"/>
<rect x="3726.93" y="878.12" width="21.90" height="254.94" fill="#b9a3d3"/>
<rect x="3726.93" y="708.16" width="21.90" height="169.96" fill="#99cce5"/>
<rect x="3754.35" y="1303.02" width="21.90" height="84.98" fill="#3399cc"/>
<rect x="3754.35" y="1218.04" width="21.90" height="84.98" fill="#ffcc00"/>
<rect x="3754.35" y="963.10" width="21.90" height="254.94" fill="#b9a3d3"/>
<rect x="3781.76" y="1303.02" width="21.90" height="84.98" fill="#3399cc"/>
<rect x="3781.76" y="1218.04" width="21.90" height="84.98" fill="#ffcc00"/>
<rect x="3781.76" y="1133.06" width="21.90" height="84.98" fill="#907db8"/>
<rect x="3781.76" y="793.14" width="21.90" height="339.92" fill="#b9a3d3"/>
<rect x="3781.76" y="623.18" width="21.90" height="169.96" fill="#99cce5"/>
<rect x="3809.18" y="1303.02" width="21.90" height="84.98" fill="#3399cc"/>
<rect x="3809.18" y="1218.04" width="21.90" height="84.98" fill="#ffcc00"/>
<rect x="3809.18" y="1133.06" width="21.90" height="84.98" fill="#907db8"/>
<rect x="3809.18" y="878.12" width="21.90" height="254.94" fill="#b9a3d3"/>
<rect x="3809.18" y="793.14" width="21.90" height="84.98" fill="#99cce5"/>
<rect x="3836.59" y="1303.02" width="21.90" height="84.98" fill="#3399cc"/>
<rect x="3836.59" y="1218.04" width="21.90" height="84.98" fill="#ffcc00"/>
<rect x="3836.59" y="963.10" width="21.90" height="254.94" fill="#b9a3d3"/>
<rect x="3864.01" y="1303.02" width="21.90" height="84.98" fill="#3399cc"/>
<rect x="3864.01" y="1218.04" width="21.90" height="84.98" fill="#ffcc00"/>
<rect x="3864.01" y="1133.06" width="21.90" height="84.98" fill="#907db8"/>
<rect x="3864.01" y="793.14" width="21.90" height="339.92" fill="#b9a3d3"/>
<rect x="3864.01" y="708.16" width="21.90" height="84.98" fill="#99cce5"/>
<rect x="3891.43" y="1303.02" width="21.90" height="84.98" fill="#3399cc"/>
<rect x="3891.43" y="1218.04" width="21.90" height="84.98" fill="#ffcc00"/>
<rect x="3891.43" y="1133.06" width="21.90" height="84.98" fill="#907db8"/>
<rect x="3891.43" y="878.12" width="21.90" height="254.94" fill="#b9a3d3"/>
<rect x="3891.43" y="793.14" width="21.90" height="84.98" fill="#99cce5"/>
<rect x="3918.84" y="1303.02" width="21.90" height="84.98" fill="#3399cc"/>
<rect x="3918.84" y="1218.04" width="21.90" height="84.98" fill="#ffcc00"/>
<rect x="3918.84" y="963.10" width="21.90" height="254.94" fill="#b9a3d3"/>
<rect x="3946.26" y="1303.02" width="21.90" height="84.98" fill="#3399cc"/>
<rect x="3946.26" y="1218.04" width="21.90" height="84.98" fill="#ffcc00"/>
<rect x="3946.26" y="1133.06" width="21.90" height="84.98" fill="#907db8"/>
<rect x="3946.26" y="793.14" width="21.90" height="339.92" fill="#b9a3d3"/>
<rect x="3946.26" y="623.18" width="21.90" height="169.96" fill="#99cce5"/>
<rect x="3973.67" y="1303.02" width="21.90" height="84.98" fill="#3399cc"/>
<rect x="3973.67" y="1218.04" width="21.90" height="84.98" fill="#ffcc00"/>
<rect x="3973.67" y="1133.06" width="21.90" height="84.98" fill="#907db8"/>
<rect x="3973.67" y="878.12" width="21.90" height="254.94" fill="#b9a3d3"/>
<rect x="3973.67" y="793.14" width="21.90" height="84.98" fill="#99cce5"/>
<rect x="4001.09" y="1303.02" width="21.90" height="84.98" fill="#3399cc"/>
<rect x="4001.09" y="1218.04" width="21.90" height="84.98" fill="#ffcc00"/>
<rect x="4001.09" y="963.10" width="21.90" height="254.94" fill="#b9a3d3"/>
<rect x="4028.51" y="1303.02" width="21.90" height="84.98" fill="#3399cc"/>
<rect x="4028.51" y="1218.04" width="21.90" height="84.98" fill="#ffcc00"/>
<rect x="4028.51" y="1133.06" width="21.90" height="84.98" fill="#907db8"/>
<rect x="4028.51" y="793.14" width="21.90" height="339.92" fill="#b9a3d3"/>
<rect x="4028.51" y="623.18" width="21.90" height="169.96" fill="#99cce5"/>
<rect x="4055.92" y="1303.02" width="21.90" height="84.98" fill="#3399cc"/>
<rect x="4055.92" y="1218.04" width="21.90" height="84.98" fill="#ffcc00"/>
<rect x="4055.92" y="1133.06" width="21.90" height="84.98" fill="#907db8"/>
<rect x="4055.92" y="878.12" width="21.90" height="254.94" fill="#b9a3d3"/>
<rect x="4055.92" y="708.16" width="21.90" height="169.96" fill="#99cce5"/>
<rect x="4083.34" y="1303.02" width="21.90" height="84.98" fill="#3399cc"/>
<rect x="4083.34" y="1218.04" width="21.90" height="84.98" fill="#ffcc00"/>
<rect x="4083.34" y="963.10" width="21.90" height="254.94" fill="#b9a3d3"/>
<rect x="4110.75" y="1303.02" width="21.90" height="84.98" fill="#3399cc"/>
<rect x="4110.75" y="1218.04" width="21.90" height="84.98" fill="#ffcc00"/>
<rect x="4110.75" y="1133.06" width="21.90" height="84.98" fill="#907db8"/>
<rect x="4110.75" y="793.14" width="21.90" height="339.92" fill="#b9a3d3"/>
<rect x="4110.75" y="708.16" width="21.90" height="84.98" fill="#99cce5"/>
<rect x="4138.17" y="1303.02" width="21.90" height="84.98" fill="#3399cc"/>
<rect x="4138.17" y="1218.04" width="21.90" height="84.98" fill="#ffcc00"/>
<rect x="4138.17" y="1133.06" width="21.90" height="84.98" fill="#907db8"/>
<rect x="4138.17" y="878.12" width="21.90" height="254.94" fill="#b9a3d3"/>
<rect x="4138.17" y="793.14" width="21.90" height="84.98" fill="#99cce5"/>
<rect x="4165.59" y="1303.02" width="21.90" height="84.98" fill="#3399cc"/>
<rect x="4165.59" y="1218.04" width="21.90" height="84.98" fill="#ffcc00"/>
<rect x="4165.59" y="963.10" width="21.90" height="254.94" fill="#b9a3d3"/>
<rect x="4165.59" y="878.12" width="21.90" height="84.98" fill="#3399cc"/>
<rect x="4193.00" y="1303.02" width="21.90" height="84.98" fill="#3399cc"/>
<rect x="4193.00" y="1218.04" width="21.90" height="84.98" fill="#907db8"/>
<rect x="4193.00" y="878.12" width="21.90" height="339.92" fill="#b9a3d3"/>
<rect x="4193.00" y="708.16" width="21.90" height="169.96" fill="#99cce5"/>
<rect x="4220.42" y="1303.02" width="21.90" height="84.98" fill="#3399cc"/>
<rect x="4220.42" y="1218.04" width="21.90" height="84.98" fill="#907db8"/>
<rect x="4220.42" y="963.10" width="21.90" height="254.94" fill="#b9a3d3"/>
<rect x="4220.42" y="878.12" width="21.90" height="84.98" fill="#99cce5"/>
<rect x="4247.83" y="1303.02" width="21.90" height="84.98" fill="#3399cc"/>
<rect x="4247.83" y="1133.06" width="21.90" height="169.96" fill="#907db8"/>
<rect x="4247.83" y="878.12" width="21.90" height="254.94" fill="#b9a3d3"/>
<rect x="4275.25" y="1303.02" width="21.90" height="84.98" fill="#3399cc"/>
<rect x="4275.25" y="1218.04" width="21.90" height="84.98" fill="#907db8"/>
<rect x="4275.25" y="878.12" width="21.90" height="339.92" fill="#b9a3d3"/>
<rect x="4275.25" y="793.14" width="21.90" height="84.98" fill="#99cce5"/>
<rect x="4302.67" y="1303.02" width="21.90" height="84.98" fill="#3399cc"/>
<rect x="4302.67" y="1218.04" width="21.90" height="84.98" fill="#907db8"/>
<rect x="4302.67" y="963.10" width="21.90" height="254.94" fill="#b9a3d3"/>
<rect x="4302.67" y="878.12" width="21.90" height="84.98" fill="#99cce5"/>
<rect x="4330.08" y="1303.02" width="21.90" height="84.98" fill="#3399cc"/>
<rect x="4330.08" y="1048.08" width="21.90" height="254.94" fill="#b9a3d3"/>
<rect x="4357.50" y="1303.02" width="21.90" height="84.98" fill="#3399cc"/>
<rect x="4357.50" y="1048.08" width="21.90" height="254.94" fill="#907db8"/>
<rect x="4357.50" y="708.16" width="21.90" height="339.92" fill="#b9a3d3"/>
<rect x="4357.50" y="538.20" width="21.90" height="169.96" fill="#99cce5"/>
<rect x="4384.91" y="1303.02" width="21.90" height="84.98" fill="#3399cc"/>
<rect x="4384.91" y="1218.04" width="21.90" height="84.98" fill="#907db8"/>
<rect x="4384.91" y="963.10" width="21.90" height="254.94" fill="#b9a3d3"/>
<rect x="4384.91" y="878.12" width="21.90" height="84.98" fill="#99cce5"/>
<rect x="4412.33" y="1303.02" width="21.90" height="84.98" fill="#3399cc"/>
<rect x="4412.33" y="1048.08" width="21.90" height="254.94" fill="#b9a3d3"/>
<rect x="4439.75" y="1303.02" width="21.90" height="84.98" fill="#3399cc"/>
<rect x="4439.75" y="963.10" width="21.90" height="339.92" fill="#b9a3d3"/>
<rect x="4439.75" y="878.12" width="21.90" height="84.98" fill="#99cce5"/>
<rect x="4467.16" y="1303.02" width="21.90" height="84.98" fill="#3399cc"/>
<rect x="4467.16" y="1048.08" width="21.90" height="254.94" fill="#b9a3d3"/>
<rect x="4494.58" y="1303.02" width="21.90" height="84.98" fill="#3399cc"/>
<rect x="4494.58" y="1048.08" width="21.90" height="254.94" fill="#b9a3d3"/>
<rect x="4521.99" y="1303.02" width="21.90" height="84.98" fill="#3399cc"/>
<rect x="4521.99" y="963.10" width="21.90" height="339.92" fill="#b9a3d3"/>
<rect x="4521.99" y="878.12" width="21.90" height="84.98" fill="#99cce5"/>
<rect x="4549.41" y="1303.02" width="21.90" height="84.98" fill="#3399cc"/>
<rect x="4549.41" y="1048.08" width="21.90" height="254.94" fill="#b9a3d3"/>
<rect x="4576.83" y="1303.02" width="21.90" height="84.98" fill="#3399cc"/>
<rect x="4576.83" y="1048.08" width="21.90" height="254.94" fill="#b9a3d3"/>
<rect x="4604.24" y="1303.02" width="21.90" height="84.98" fill="#3399cc"/>
<rect x="4604.24" y="963.10" width="21.90" height="339.92" fill="#b9a3d3"/>
<rect x="4604.24" y="878.12" width="21.90" height="84.98" fill="#99cce5"/>
<rect x="4631.66" y="1303.02" width="21.90" height="84.98" fill="#3399cc"/>
<rect x="4631.66" y="1048.08" width="21.90" height="254.94" fill="#b9a3d3"/>
<rect x="4659.07" y="1303.02" width="21.90" height="84.98" fill="#3399cc"/>
<rect x="4659.07" y="1048.08" width="21.90" height="254.94" fill="#b9a3d3"/>
<rect x="4686.49" y="1303.02" width="21.90" height="84.98" fill="#3399cc"/>
<rect x="4686.49" y="963.10" width="21.90" height="339.92" fill="#b9a3d3"/>
<rect x="4686.49" y="878.12" width="21.90" height="84.98" fill="#99cce5"/>
<rect x="4713.91" y="1303.02" width="21.90" height="84.98" fill="#3399cc"/>
<rect x="4713.91" y="1048.08" width="21.90" height="254.94" fill="#b9a3d3"/>
<rect x="4741.32" y="1303.02" width="21.90" height="84.98" fill="#3399cc"/>
<rect x="4741.32" y="1048.08" width="21.90" height="254.94" fill="#b9a3d3"/>
<rect x="4768.74" y="1303.02" width="21.90" height="84.98" fill="#3399cc"/>
<rect x="4768.74" y="963.10" width="21.90" height="339.92" fill="#b9a3d3"/>
<rect x="4768.74" y="878.12" width="21.90" height="84.98" fill="#99cce5"/>
<rect x="4796.15" y="1303.02" width="21.90" height="84.98" fill="#3399cc"/>
<rect x="4796.15" y="1048.08" width="21.90" height="254.94" fill="#b9a3d3"/>
<rect x="4823.57" y="1303.02" width="21.90" height="84.98" fill="#3399cc"/>
<rect x="4823.57" y="1048.08" width="21.90" height="254.94" fill="#b9a3d3"/>
<rect x="4850.99" y="1303.02" width="21.90" height="84.98" fill="#3399cc"/>
<rect x="4850.99" y="963.10" width="21.90" height="339.92" fill="#b9a3d3"/>
<rect x="4878.40" y="1303.02" width="14.50" height="84.98" fill="#3399cc"/>
<rect x="4878.40" y="1048.08" width="14.50" height="254.94" fill="#b9a3d3"/>
<rect x="162.8" y="1301.63" width="4730.0" height="1.3" fill="#000" fill-opacity="0.16"/>
<rect x="162.8" y="1216.56" width="4730.0" height="1.3" fill="#000" fill-opacity="0.16"/>
<rect x="162.8" y="1131.49" width="4730.0" height="1.3" fill="#000" fill-opacity="0.16"/>
<rect x="162.8" y="1046.42" width="4730.0" height="1.3" fill="#000" fill-opacity="0.16"/>
<rect x="162.8" y="961.35" width="4730.0" height="1.3" fill="#000" fill-opacity="0.16"/>
<rect x="162.8" y="876.28" width="4730.0" height="1.3" fill="#000" fill-opacity="0.16"/>
<rect x="162.8" y="791.21" width="4730.0" height="1.3" fill="#000" fill-opacity="0.16"/>
<rect x="162.8" y="706.14" width="4730.0" height="1.3" fill="#000" fill-opacity="0.16"/>
<rect x="162.8" y="621.07" width="4730.0" height="1.3" fill="#000" fill-opacity="0.16"/>
<rect x="162.8" y="536.00" width="4730.0" height="1.3" fill="#000" fill-opacity="0.16"/>
<rect x="162.8" y="450.93" width="4730.0" height="1.3" fill="#000" fill-opacity="0.16"/>
<rect x="162.8" y="365.86" width="4730.0" height="1.3" fill="#000" fill-opacity="0.16"/>
<rect x="162.8" y="1386.95" width="4730.0" height="1.1" fill="#000" fill-opacity="0.62"/>
<rect x="298.73" y="1387.5" width="1.4" height="12.3" fill="#111"/>
<rect x="463.23" y="1387.5" width="1.4" height="12.3" fill="#111"/>
<rect x="627.72" y="1387.5" width="1.4" height="12.3" fill="#111"/>
<rect x="792.22" y="1387.5" width="1.4" height="12.3" fill="#111"/>
<rect x="956.71" y="1387.5" width="1.4" height="12.3" fill="#111"/>
<rect x="1121.21" y="1387.5" width="1.4" height="12.3" fill="#111"/>
<rect x="1285.71" y="1387.5" width="1.4" height="12.3" fill="#111"/>
<rect x="1450.20" y="1387.5" width="1.4" height="12.3" fill="#111"/>
<rect x="1614.70" y="1387.5" width="1.4" height="12.3" fill="#111"/>
<rect x="1779.19" y="1387.5" width="1.4" height="12.3" fill="#111"/>
<rect x="1943.69" y="1387.5" width="1.4" height="12.3" fill="#111"/>
<rect x="2108.19" y="1387.5" width="1.4" height="12.3" fill="#111"/>
<rect x="2272.68" y="1387.5" width="1.4" height="12.3" fill="#111"/>
<rect x="2437.18" y="1387.5" width="1.4" height="12.3" fill="#111"/>
<rect x="2601.67" y="1387.5" width="1.4" height="12.3" fill="#111"/>
<rect x="2766.17" y="1387.5" width="1.4" height="12.3" fill="#111"/>
<rect x="2930.67" y="1387.5" width="1.4" height="12.3" fill="#111"/>
<rect x="3095.16" y="1387.5" width="1.4" height="12.3" fill="#111"/>
<rect x="3259.66" y="1387.5" width="1.4" height="12.3" fill="#111"/>
<rect x="3424.15" y="1387.5" width="1.4" height="12.3" fill="#111"/>
<rect x="3588.65" y="1387.5" width="1.4" height="12.3" fill="#111"/>
<rect x="3753.15" y="1387.5" width="1.4" height="12.3" fill="#111"/>
<rect x="3917.64" y="1387.5" width="1.4" height="12.3" fill="#111"/>
<rect x="4082.14" y="1387.5" width="1.4" height="12.3" fill="#111"/>
<rect x="4246.63" y="1387.5" width="1.4" height="12.3" fill="#111"/>
<rect x="4411.13" y="1387.5" width="1.4" height="12.3" fill="#111"/>
<rect x="4575.63" y="1387.5" width="1.4" height="12.3" fill="#111"/>
<rect x="4740.12" y="1387.5" width="1.4" height="12.3" fill="#111"/>
<rect x="159.0" y="1454.2" width="39.9" height="39.5" fill="#99cce5"/>
<rect x="315.0" y="1454.2" width="39.9" height="39.5" fill="#3399cc"/>
<rect x="479.0" y="1454.2" width="39.9" height="39.5" fill="#b9a3d3"/>
<rect x="673.3" y="1454.2" width="39.9" height="39.5" fill="#907db8"/>
<rect x="845.4" y="1454.2" width="39.9" height="39.5" fill="#ffeca0"/>
<rect x="1069.0" y="1454.2" width="39.9" height="39.5" fill="#ffcc00"/>
<rect x="1245.1" y="1454.2" width="39.9" height="39.5" fill="#99cce5"/>
<rect x="1475.2" y="1454.2" width="39.9" height="39.5" fill="#3399cc"/>
</svg>
<svg class="icons" width="4987" height="1521" viewBox="0 0 4987 1521">
<rect x="79" y="52.5" width="5.8" height="5.7" rx="0.8" fill="#6b6b6b"/>
<rect x="88.1" y="52.5" width="31" height="5.7" rx="0.8" fill="#6b6b6b"/>
<rect x="79" y="62.3" width="5.8" height="5.6" rx="0.8" fill="#6b6b6b"/>
<rect x="88.1" y="62.3" width="31" height="5.6" rx="0.8" fill="#6b6b6b"/>
<rect x="79" y="72.0" width="5.8" height="5.6" rx="0.8" fill="#6b6b6b"/>
<rect x="88.1" y="72.0" width="31" height="5.6" rx="0.8" fill="#6b6b6b"/>
<rect x="79" y="82.0" width="5.8" height="5.6" rx="0.8" fill="#6b6b6b"/>
<rect x="88.1" y="82.0" width="31" height="5.6" rx="0.8" fill="#6b6b6b"/>
<rect x="204" y="53.3" width="38.2" height="18.2" rx="2" fill="none" stroke="#6b6b6b" stroke-width="1.35"/>
<rect x="204" y="76" width="38.2" height="11" rx="2" fill="none" stroke="#6b6b6b" stroke-width="1.35"/>
<rect x="207" y="55.9" width="4.6" height="4.7" fill="#6b6b6b"/>
<rect x="214.7" y="55.9" width="24.6" height="4.7" fill="#6b6b6b"/>
<rect x="207" y="64.0" width="4.6" height="4.7" fill="#6b6b6b"/>
<rect x="214.7" y="64.0" width="24.6" height="4.7" fill="#6b6b6b"/>
<rect x="207" y="79.2" width="4.6" height="4.7" fill="#6b6b6b"/>
<rect x="214.7" y="79.2" width="24.6" height="4.7" fill="#6b6b6b"/>
<path d="M330.2 54.6 V83.7 H369" fill="none" stroke="#fff" stroke-width="2.4"/>
<path d="M335.3 77.6 L345.4 67.5 L352.3 74.3 L362.5 63.5" fill="none" stroke="#fff" stroke-width="5.4" stroke-linejoin="miter"/>
<path d="M355.6 57.7 H367.1 V69.4 Z" fill="#fff"/>
<path d="M585.0 67.6 L609.0 67.6 L597.0 80.0 Z" fill="#666" stroke="#666" stroke-width="2" stroke-linejoin="round"/>
<circle cx="672.7" cy="68.3" r="13.1" fill="none" stroke="#b3b3b3" stroke-width="5.6"/>
<path d="M682.5 78.2 L691.2 86.8" stroke="#b3b3b3" stroke-width="6.2" stroke-linecap="round"/>
<circle cx="4830.3" cy="70.8" r="16.3" fill="#b3b3b7"/>
<path d="M4823.8 64.3 L4836.8 77.3 M4836.8 64.3 L4823.8 77.3" stroke="#fff" stroke-width="5.4" stroke-linecap="round"/>
<path d="M4900 56 L4890.3 66 L4900 76 M4911.8 51.5 L4904.5 80.3 M4916.3 56 L4926 66 L4916.3 76" fill="none" stroke="#000" stroke-width="3.1" stroke-linecap="round"/>
<path d="M1489.5 176.8 L1516.6 203.8 M1516.6 176.8 L1489.5 203.8" stroke="#666" stroke-width="2.8"/>
<path d="M4893.2 189.4 H4888.3 V203.3 H4912.2 V189.4 H4907.3" fill="none" stroke="#666" stroke-width="4.2" stroke-linejoin="round"/>
<path d="M4900.1 174.2 L4907.6 183.2 H4902.3 V197.8 H4897.9 V183.2 H4892.6 Z" fill="#666" stroke="#666" stroke-width="0.8" stroke-linejoin="round"/>
<defs><pattern id="hatch" width="3.2" height="3.2" patternUnits="userSpaceOnUse" patternTransform="rotate(-45)"><rect x="0" y="0" width="3.2" height="1.5" fill="#3a96c9"/></pattern></defs>
<rect x="70.2" y="253.5" width="12" height="33" fill="url(#hatch)" opacity="0.7"/>
<rect x="70.2" y="253.5" width="33.4" height="33.2" rx="3.5" fill="none" stroke="#3a96c9" stroke-width="2.4"/>
<path d="M87.2 264 L94.2 270.4 L87.2 276.8" fill="none" stroke="#3a96c9" stroke-width="2.8"/>
<path d="M629.3 267.5 L646.8 267.5 L638.0 277.0 Z" fill="#666" stroke="#666" stroke-width="2" stroke-linejoin="round"/>
<path d="M919.8 265.8 L936.7 265.8 L928.2 275.0 Z" fill="#666" stroke="#666" stroke-width="2" stroke-linejoin="round"/>
<path d="M1213.1 265.8 L1230.9 265.8 L1222.0 275.0 Z" fill="#666" stroke="#666" stroke-width="2" stroke-linejoin="round"/>
<path d="M1556.7 265.8 L1575.0 265.8 L1565.8 275.0 Z" fill="#666" stroke="#666" stroke-width="2" stroke-linejoin="round"/>
</svg>
<span class="t" style="top:51.63px;font-size:38.00px;line-height:38.00px;color:#333;-webkit-text-stroke:0.57px #333;left:432.43px;transform:scaleX(1.0708);">demo</span>
<span class="t" style="top:49.63px;font-size:38.00px;line-height:38.00px;color:#555;-webkit-text-stroke:0.57px #555;left:739.46px;transform:scaleX(1.0419);">Source:harbor</span>
<span class="t" style="top:52.57px;font-size:35.00px;line-height:35.00px;color:#555;-webkit-text-stroke:0.85px #555;left:1005.80px;transform:scaleX(1.0000);">×</span>
<span class="t" style="top:49.63px;font-size:38.00px;line-height:38.00px;color:#555;-webkit-text-stroke:0.57px #555;left:1086.69px;transform:scaleX(1.0708);">Host:harbor-demo.c.datadog-demodog.internal</span>
<span class="t" style="top:52.57px;font-size:35.00px;line-height:35.00px;color:#555;-webkit-text-stroke:0.85px #555;left:1946.25px;transform:scaleX(1.0000);">×</span>
<span class="t" style="top:49.63px;font-size:38.00px;line-height:38.00px;color:#555;-webkit-text-stroke:0.57px #555;left:2028.38px;transform:scaleX(1.0170);">- Service:(4 terms)</span>
<span class="t" style="top:52.57px;font-size:35.00px;line-height:35.00px;color:#555;-webkit-text-stroke:0.85px #555;left:2360.10px;transform:scaleX(1.0000);">×</span>
<span class="t" style="top:171.64px;font-size:33.50px;line-height:33.50px;color:#666;-webkit-text-stroke:0.50px #666;left:777.56px;transform:scaleX(1.0356);">Count unique</span>
<span class="t" style="top:173.24px;font-size:33.50px;line-height:33.50px;color:#333;-webkit-text-stroke:0.50px #333;left:1022.00px;transform:scaleX(1.0030);">Status</span>
<span class="t" style="top:173.24px;font-size:33.50px;line-height:33.50px;color:#333;-webkit-text-stroke:0.50px #333;left:1159.75px;transform:scaleX(1.0500);">group by</span>
<span class="t" style="top:173.24px;font-size:33.50px;line-height:33.50px;color:#333;-webkit-text-stroke:0.50px #333;left:1339.74px;transform:scaleX(0.9630);">Service</span>
<span class="t" style="top:171.64px;font-size:33.50px;line-height:33.50px;color:#666;-webkit-text-stroke:0.50px #666;left:1570.53px;transform:scaleX(1.0353);">roll up every</span>
<span class="t" style="top:173.24px;font-size:33.50px;line-height:33.50px;color:#333;-webkit-text-stroke:0.50px #333;left:1797.48px;transform:scaleX(1.0096);">10s (auto)</span>
<span class="t" style="top:171.54px;font-size:33.50px;line-height:33.50px;color:#666;-webkit-text-stroke:0.50px #666;left:2004.38px;transform:scaleX(1.1077);">limit to</span>
<span class="t" style="top:173.24px;font-size:33.50px;line-height:33.50px;color:#333;-webkit-text-stroke:0.50px #333;left:2150.30px;transform:scaleX(1.0797);">top</span>
<span class="t" style="top:173.24px;font-size:33.50px;line-height:33.50px;color:#333;-webkit-text-stroke:0.50px #333;left:2242.64px;transform:scaleX(0.9818);">10</span>
<span class="t" style="top:173.34px;font-size:33.50px;line-height:33.50px;color:#333;-webkit-text-stroke:0.50px #333;left:4766.36px;transform:scaleX(1.0198);">Export</span>
<span class="t" style="top:253.66px;font-size:33.60px;line-height:33.60px;color:#3a96c9;-webkit-text-stroke:0.50px #3a96c9;left:120.19px;transform:scaleX(1.0094);">Show Controls</span>
<span class="t" style="top:255.63px;font-size:28.20px;line-height:28.20px;color:#333;-webkit-text-stroke:0.42px #333;left:455.60px;transform:scaleX(1.0177);">Timeseries</span>
<span class="t" style="top:255.93px;font-size:28.20px;line-height:28.20px;color:#666;-webkit-text-stroke:0.42px #666;left:689.23px;transform:scaleX(1.0361);">Display:</span>
<span class="t" style="top:255.93px;font-size:28.20px;line-height:28.20px;color:#333;-webkit-text-stroke:0.42px #333;left:826.60px;transform:scaleX(0.9989);">Bars</span>
<span class="t" style="top:255.93px;font-size:28.20px;line-height:28.20px;color:#666;-webkit-text-stroke:0.42px #666;left:979.75px;transform:scaleX(1.0476);">Color:</span>
<span class="t" style="top:255.93px;font-size:28.20px;line-height:28.20px;color:#333;-webkit-text-stroke:0.42px #333;left:1092.04px;transform:scaleX(0.9560);">Classic</span>
<span class="t" style="top:255.93px;font-size:28.20px;line-height:28.20px;color:#666;-webkit-text-stroke:0.42px #666;left:1273.82px;transform:scaleX(0.9803);">Stacked as:</span>
<span class="t" style="top:255.93px;font-size:28.20px;line-height:28.20px;color:#333;-webkit-text-stroke:0.42px #333;left:1452.80px;transform:scaleX(1.0155);">Value</span>
<span class="t" style="top:1374.33px;font-size:24.60px;line-height:24.60px;color:#333;-webkit-text-stroke:0.37px #333;left:140.79px;transform:scaleX(1.0007);">0</span>
<span class="t" style="top:1289.26px;font-size:24.60px;line-height:24.60px;color:#333;-webkit-text-stroke:0.37px #333;left:140.79px;transform:scaleX(1.0007);">1</span>
<span class="t" style="top:1204.19px;font-size:24.60px;line-height:24.60px;color:#333;-webkit-text-stroke:0.37px #333;left:140.79px;transform:scaleX(1.0007);">2</span>
<span class="t" style="top:1119.12px;font-size:24.60px;line-height:24.60px;color:#333;-webkit-text-stroke:0.37px #333;left:140.79px;transform:scaleX(1.0007);">3</span>
<span class="t" style="top:1034.05px;font-size:24.60px;line-height:24.60px;color:#333;-webkit-text-stroke:0.37px #333;left:140.79px;transform:scaleX(1.0007);">4</span>
<span class="t" style="top:948.98px;font-size:24.60px;line-height:24.60px;color:#333;-webkit-text-stroke:0.37px #333;left:140.79px;transform:scaleX(1.0007);">5</span>
<span class="t" style="top:863.91px;font-size:24.60px;line-height:24.60px;color:#333;-webkit-text-stroke:0.37px #333;left:140.79px;transform:scaleX(1.0007);">6</span>
<span class="t" style="top:778.84px;font-size:24.60px;line-height:24.60px;color:#333;-webkit-text-stroke:0.37px #333;left:140.79px;transform:scaleX(1.0007);">7</span>
<span class="t" style="top:693.77px;font-size:24.60px;line-height:24.60px;color:#333;-webkit-text-stroke:0.37px #333;left:140.79px;transform:scaleX(1.0007);">8</span>
<span class="t" style="top:608.70px;font-size:24.60px;line-height:24.60px;color:#333;-webkit-text-stroke:0.37px #333;left:140.79px;transform:scaleX(1.0007);">9</span>
<span class="t" style="top:523.63px;font-size:24.60px;line-height:24.60px;color:#333;-webkit-text-stroke:0.37px #333;left:127.10px;transform:scaleX(1.0007);">10</span>
<span class="t" style="top:438.56px;font-size:24.60px;line-height:24.60px;color:#333;-webkit-text-stroke:0.37px #333;left:128.93px;transform:scaleX(1.0007);">11</span>
<span class="t" style="top:353.49px;font-size:24.60px;line-height:24.60px;color:#333;-webkit-text-stroke:0.37px #333;left:127.10px;transform:scaleX(1.0007);">12</span>
<span class="t" style="top:1404.44px;font-size:25.00px;line-height:25.00px;color:#333;-webkit-text-stroke:0.38px #333;left:268.63px;transform:scaleX(1.0007);">13:45</span>
<span class="t" style="top:1404.44px;font-size:25.00px;line-height:25.00px;color:#333;-webkit-text-stroke:0.38px #333;left:433.12px;transform:scaleX(1.0007);">13:46</span>
<span class="t" style="top:1404.44px;font-size:25.00px;line-height:25.00px;color:#333;-webkit-text-stroke:0.38px #333;left:597.62px;transform:scaleX(1.0007);">13:47</span>
<span class="t" style="top:1404.44px;font-size:25.00px;line-height:25.00px;color:#333;-webkit-text-stroke:0.38px #333;left:762.12px;transform:scaleX(1.0007);">13:48</span>
<span class="t" style="top:1404.44px;font-size:25.00px;line-height:25.00px;color:#333;-webkit-text-stroke:0.38px #333;left:926.61px;transform:scaleX(1.0007);">13:49</span>
<span class="t" style="top:1404.44px;font-size:25.00px;line-height:25.00px;color:#333;-webkit-text-stroke:0.38px #333;left:1091.11px;transform:scaleX(1.0007);">13:50</span>
<span class="t" style="top:1404.44px;font-size:25.00px;line-height:25.00px;color:#333;-webkit-text-stroke:0.38px #333;left:1255.60px;transform:scaleX(1.0007);">13:51</span>
<span class="t" style="top:1404.44px;font-size:25.00px;line-height:25.00px;color:#333;-webkit-text-stroke:0.38px #333;left:1420.10px;transform:scaleX(1.0007);">13:52</span>
<span class="t" style="top:1404.44px;font-size:25.00px;line-height:25.00px;color:#333;-webkit-text-stroke:0.38px #333;left:1584.60px;transform:scaleX(1.0007);">13:53</span>
<span class="t" style="top:1404.44px;font-size:25.00px;line-height:25.00px;color:#333;-webkit-text-stroke:0.38px #333;left:1749.09px;transform:scaleX(1.0007);">13:54</span>
<span class="t" style="top:1404.44px;font-size:25.00px;line-height:25.00px;color:#333;-webkit-text-stroke:0.38px #333;left:1913.59px;transform:scaleX(1.0007);">13:55</span>
<span class="t" style="top:1404.44px;font-size:25.00px;line-height:25.00px;color:#333;-webkit-text-stroke:0.38px #333;left:2078.08px;transform:scaleX(1.0007);">13:56</span>
<span class="t" style="top:1404.44px;font-size:25.00px;line-height:25.00px;color:#333;-webkit-text-stroke:0.38px #333;left:2242.58px;transform:scaleX(1.0007);">13:57</span>
<span class="t" style="top:1404.44px;font-size:25.00px;line-height:25.00px;color:#333;-webkit-text-stroke:0.38px #333;left:2407.08px;transform:scaleX(1.0007);">13:58</span>
<span class="t" style="top:1404.44px;font-size:25.00px;line-height:25.00px;color:#333;-webkit-text-stroke:0.38px #333;left:2571.57px;transform:scaleX(1.0007);">13:59</span>
<span class="t" style="top:1404.44px;font-size:25.00px;line-height:25.00px;color:#333;-webkit-text-stroke:0.38px #333;left:2736.07px;transform:scaleX(1.0007);">14:00</span>
<span class="t" style="top:1404.44px;font-size:25.00px;line-height:25.00px;color:#333;-webkit-text-stroke:0.38px #333;left:2900.56px;transform:scaleX(1.0007);">14:01</span>
<span class="t" style="top:1404.44px;font-size:25.00px;line-height:25.00px;color:#333;-webkit-text-stroke:0.38px #333;left:3065.06px;transform:scaleX(1.0007);">14:02</span>
<span class="t" style="top:1404.44px;font-size:25.00px;line-height:25.00px;color:#333;-webkit-text-stroke:0.38px #333;left:3229.56px;transform:scaleX(1.0007);">14:03</span>
<span class="t" style="top:1404.44px;font-size:25.00px;line-height:25.00px;color:#333;-webkit-text-stroke:0.38px #333;left:3394.05px;transform:scaleX(1.0007);">14:04</span>
<span class="t" style="top:1404.44px;font-size:25.00px;line-height:25.00px;color:#333;-webkit-text-stroke:0.38px #333;left:3558.55px;transform:scaleX(1.0007);">14:05</span>
<span class="t" style="top:1404.44px;font-size:25.00px;line-height:25.00px;color:#333;-webkit-text-stroke:0.38px #333;left:3723.04px;transform:scaleX(1.0007);">14:06</span>
<span class="t" style="top:1404.44px;font-size:25.00px;line-height:25.00px;color:#333;-webkit-text-stroke:0.38px #333;left:3887.54px;transform:scaleX(1.0007);">14:07</span>
<span class="t" style="top:1404.44px;font-size:25.00px;line-height:25.00px;color:#333;-webkit-text-stroke:0.38px #333;left:4052.04px;transform:scaleX(1.0007);">14:08</span>
<span class="t" style="top:1404.44px;font-size:25.00px;line-height:25.00px;color:#333;-webkit-text-stroke:0.38px #333;left:4216.53px;transform:scaleX(1.0007);">14:09</span>
<span class="t" style="top:1404.44px;font-size:25.00px;line-height:25.00px;color:#333;-webkit-text-stroke:0.38px #333;left:4381.03px;transform:scaleX(1.0007);">14:10</span>
<span class="t" style="top:1404.44px;font-size:25.00px;line-height:25.00px;color:#333;-webkit-text-stroke:0.38px #333;left:4546.45px;transform:scaleX(1.0007);">14:11</span>
<span class="t" style="top:1404.44px;font-size:25.00px;line-height:25.00px;color:#333;-webkit-text-stroke:0.38px #333;left:4710.02px;transform:scaleX(1.0007);">14:12</span>
<span class="t" style="top:1459.01px;font-size:25.50px;line-height:25.50px;color:#333;-webkit-text-stroke:0.38px #333;left:219.27px;transform:scaleX(1.0305);">core</span>
<span class="t" style="top:1459.01px;font-size:25.50px;line-height:25.50px;color:#333;-webkit-text-stroke:0.38px #333;left:375.95px;transform:scaleX(1.0463);">redis</span>
<span class="t" style="top:1459.01px;font-size:25.50px;line-height:25.50px;color:#333;-webkit-text-stroke:0.38px #333;left:538.52px;transform:scaleX(1.0779);">registry</span>
<span class="t" style="top:1459.01px;font-size:25.50px;line-height:25.50px;color:#333;-webkit-text-stroke:0.38px #333;left:734.54px;transform:scaleX(1.0567);">proxy</span>
<span class="t" style="top:1459.01px;font-size:25.50px;line-height:25.50px;color:#333;-webkit-text-stroke:0.38px #333;left:907.02px;transform:scaleX(1.0163);">jobservice</span>
<span class="t" style="top:1459.01px;font-size:25.50px;line-height:25.50px;color:#333;-webkit-text-stroke:0.38px #333;left:1129.49px;transform:scaleX(1.1060);">portal</span>
<span class="t" style="top:1459.01px;font-size:25.50px;line-height:25.50px;color:#333;-webkit-text-stroke:0.38px #333;left:1304.94px;transform:scaleX(1.0610);">postgresql</span>
<span class="t" style="top:1459.01px;font-size:25.50px;line-height:25.50px;color:#333;-webkit-text-stroke:0.38px #333;left:1534.11px;transform:scaleX(1.0861);">registryctl</span>
</body></html>
